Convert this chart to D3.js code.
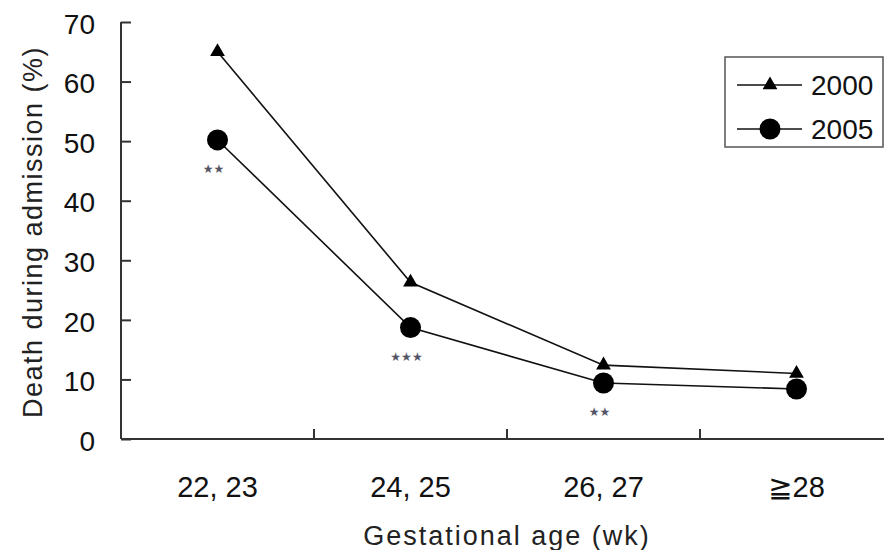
<!DOCTYPE html>
<html>
<head>
<meta charset="utf-8">
<script src="https://cdn.jsdelivr.net/npm/d3@7"></script>
<style>
  body { margin: 0; background: #fff; }
  svg { display: block; }
</style>
</head>
<body>
<div id="chart"></div>
<script>
// data
var categories = ["22, 23", "24, 25", "26, 27", "≧28"];
var years = ["2000", "2005"];
var death2000 = [65.0, 26.3, 12.4, 11.0];
var death2005 = [50.2, 18.7, 9.4, 8.4];
var yTicks = [0, 10, 20, 30, 40, 50, 60, 70];
var stars2005 = [2, 3, 2, 0]; // significance marks under the 2005 points

var chart = {
  width: 884,
  height: 550,
  top: 22,
  left: 121,
  right: 893,
  bottom: 439,
}

var svg = d3.select("#chart")
  .append("svg")
  .attr("width", chart.width)
  .attr("height", chart.height);

var x = d3.scaleBand()
  .domain(categories)
  .range([chart.left, chart.right])
  .padding(0);

var y = d3.scaleLinear()
  .domain([0, 70])
  .range([chart.bottom, chart.top]);

var cx = (c) => x(c) + x.bandwidth() / 2;

/* y axis */
var yAxis = svg.append("g")
  .attr("transform", `translate(${chart.left},0)`)
  .call(d3.axisRight(y).tickValues(yTicks).tickSize(10).tickFormat(""));
yAxis.select(".domain").remove();
yAxis.selectAll("line").attr("stroke", "#333").attr("stroke-width", 2);

svg.append("line")
  .attr("x1", chart.left).attr("x2", chart.left)
  .attr("y1", y(70)).attr("y2", y(0))
  .attr("stroke", "#333").attr("stroke-width", 2);

svg.selectAll(".ylabel")
  .data(yTicks)
  .enter()
  .append("text")
  .attr("class", "ylabel")
  .attr("x", 95)
  .attr("y", (d) => y(d))
  .attr("dy", "0.42em")
  .attr("text-anchor", "end")
  .style("font-family", "'Liberation Sans', Arial, sans-serif")
  .style("font-size", "28px")
  .style("fill", "#111")
  .text((d) => d);

/* x axis */
svg.append("line")
  .attr("x1", chart.left).attr("x2", chart.right)
  .attr("y1", y(0)).attr("y2", y(0))
  .attr("stroke", "#333").attr("stroke-width", 2);

svg.selectAll(".xtick")
  .data(categories.slice(1))
  .enter()
  .append("line")
  .attr("class", "xtick")
  .attr("x1", (d) => x(d)).attr("x2", (d) => x(d))
  .attr("y1", y(0)).attr("y2", y(0) - 10)
  .attr("stroke", "#333").attr("stroke-width", 2);

svg.selectAll(".xlabel")
  .data(categories)
  .enter()
  .append("text")
  .attr("class", "xlabel")
  .attr("x", (d) => cx(d))
  .attr("y", 497)
  .attr("text-anchor", "middle")
  .style("font-family", "'Liberation Sans', Arial, 'DejaVu Sans', sans-serif")
  .style("font-size", "29px")
  .style("fill", "#111")
  .text((d) => d);

/* axis titles */
svg.append("text")
  .attr("x", (chart.left + chart.right) / 2)
  .attr("y", 545)
  .attr("text-anchor", "middle")
  .style("font-family", "'Liberation Sans', Arial, sans-serif")
  .style("font-size", "27px")
  .style("letter-spacing", "2px")
  .style("fill", "#222")
  .text("Gestational age (wk)");

svg.append("text")
  .attr("transform", "translate(42,232) rotate(-90)")
  .attr("text-anchor", "middle")
  .style("font-family", "'Liberation Sans', Arial, sans-serif")
  .style("font-size", "27px")
  .style("letter-spacing", "1.5px")
  .style("fill", "#222")
  .text("Death during admission (%)");

/* series */
var series = [
  { year: years[0], values: death2000, symbol: d3.symbolTriangle, size: 95 },
  { year: years[1], values: death2005, symbol: d3.symbolCircle, size: 346 },
];

var line = d3.line()
  .x((d, i) => cx(categories[i]))
  .y((d) => y(d));

series.forEach((s) => {
  svg.append("path")
    .attr("d", line(s.values))
    .style("fill", "none")
    .style("stroke", "#111")
    .style("stroke-width", 1.6);

  svg.selectAll(null)
    .data(s.values)
    .enter()
    .append("path")
    .attr("d", d3.symbol().type(s.symbol).size(s.size))
    .attr("transform", (d, i) => `translate(${cx(categories[i])},${y(d)})`)
    .style("fill", "#000");
});

/* significance stars */
svg.selectAll(".stars")
  .data(stars2005)
  .enter()
  .append("text")
  .attr("class", "stars")
  .attr("x", (d, i) => cx(categories[i]) - 4)
  .attr("y", (d, i) => y(death2005[i]) + 33)
  .attr("text-anchor", "middle")
  .style("font-family", "'DejaVu Sans', sans-serif")
  .style("font-size", "12px")
  .style("fill", "#556")
  .text((d) => "★".repeat(d));

/* legend */
var legend = svg.append("g");
legend.append("rect")
  .attr("x", 725).attr("y", 57)
  .attr("width", 158).attr("height", 90)
  .style("fill", "#fff")
  .style("stroke", "#555")
  .style("stroke-width", 1.5);

series.forEach((s, i) => {
  var ly = 85 + i * 44;
  legend.append("line")
    .attr("x1", 737).attr("x2", 802)
    .attr("y1", ly).attr("y2", ly)
    .style("stroke", "#111").style("stroke-width", 1.6);
  legend.append("path")
    .attr("d", d3.symbol().type(s.symbol).size(s.size))
    .attr("transform", `translate(770,${ly})`)
    .style("fill", "#000");
  legend.append("text")
    .attr("x", 811)
    .attr("y", ly + 10)
    .style("font-family", "'Liberation Sans', Arial, sans-serif")
    .style("font-size", "28px")
    .style("fill", "#111")
    .text(s.year);
});
</script>
</body>
</html>
